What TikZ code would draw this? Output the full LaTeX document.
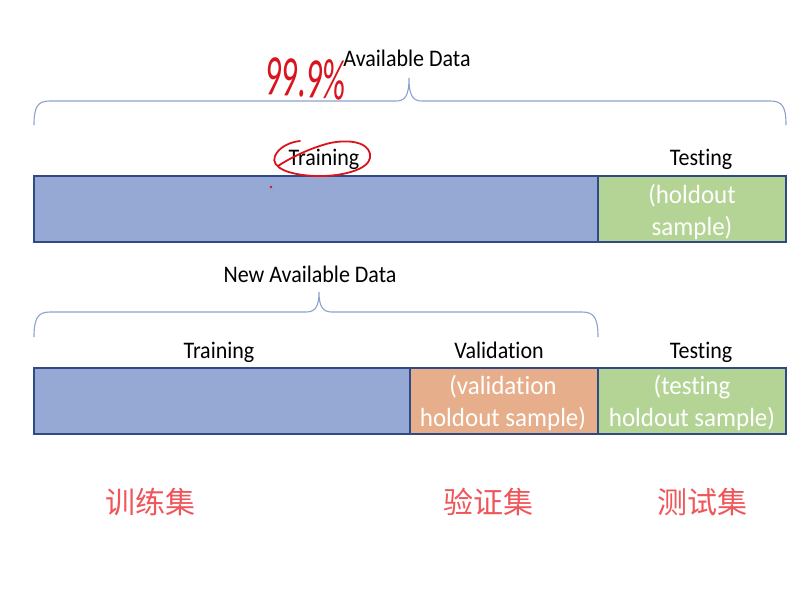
\documentclass[tikz,border=0pt]{standalone}
\usepackage{fontspec}
\setmainfont{Carlito}[Ligatures=NoCommon]
\newfontfamily\cjk{Noto Sans CJK SC}
\definecolor{barblue}{HTML}{95A9D4}
\definecolor{bargreen}{HTML}{B3D495}
\definecolor{barorange}{HTML}{E6AE8A}
\definecolor{edgeblue}{HTML}{2F4A86}
\definecolor{bracecol}{HTML}{8CA2CE}
\definecolor{cnred}{HTML}{F0555A}
\definecolor{penred}{HTML}{D9141E}
\begin{document}
\begin{tikzpicture}[x=1pt,y=-1pt,
  seg/.style={draw=edgeblue,line width=2pt,anchor=north west,inner sep=0pt,outer sep=0pt},
  lbl/.style={font=\fontsize{22}{24}\selectfont,text=black,inner sep=0pt,anchor=base,yscale=1.08},
  wlbl/.style={font=\fontsize{25}{30}\selectfont,text=white,align=center,inner sep=0pt,yscale=1.05},
  cn/.style={font=\cjk\fontsize{30}{32}\selectfont,text=cnred,inner sep=0pt},
  brace/.style={draw=bracecol,line width=1.1pt},
  pen/.style={draw=penred,line width=1.8pt,line cap=round,line join=round}]
\useasboundingbox (0,0) rectangle (810,600);
\fill[white] (0,0) rectangle (810,600);
% top bar
\node[seg,fill=barblue,minimum width=564pt,minimum height=66pt] (tblue) at (34,176) {};
\node[seg,fill=bargreen,minimum width=188pt,minimum height=66pt] (tgreen) at (598,176) {};
\node[wlbl] (thold) at (692,212) {(holdout\\sample)};
% bottom bar
\node[seg,fill=barblue,minimum width=376pt,minimum height=66pt] (bblue) at (34,368) {};
\node[seg,fill=barorange,minimum width=188pt,minimum height=66pt] (borange) at (410,368) {};
\node[seg,fill=bargreen,minimum width=188pt,minimum height=66pt] (bgreen) at (598,368) {};
\node[wlbl] (bval) at (503,403) {(validation\\holdout sample)};
\node[wlbl] (btest) at (692,403) {(testing\\holdout sample)};
% braces
\draw[brace] (34,125) .. controls (34,106) and (38,101) .. (50,101) -- (396,101)
  .. controls (405,101) and (409,96) .. (409,78) .. controls (409,96) and (413,101) .. (422,101)
  -- (770,101) .. controls (782,101) and (786,106) .. (786,125);
\draw[brace] (34,337) .. controls (34,318) and (38,312) .. (50,312) -- (306,312)
  .. controls (315,312) and (319,307) .. (319,292) .. controls (319,307) and (323,312) .. (332,312)
  -- (582,312) .. controls (594,312) and (598,318) .. (598,337);
% labels
\node[lbl] (avail) at (407,66) {Available Data};
\node[lbl] (ttrain) at (324,165) {Training};
\node[lbl] (ttest) at (701,165) {Testing};
\node[lbl] (newavail) at (310,282) {New Available Data};
\node[lbl] (btrain) at (219,358) {Training};
\node[lbl] (bvalid) at (499,358) {Validation};
\node[lbl] (btesting) at (701,358) {Testing};
% chinese labels
\node[cn] (cntrain) at (150,502) {训练集};
\node[cn] (cnval) at (488,502) {验证集};
\node[cn] (cntest) at (702,502) {测试集};
% pen annotations
\draw[pen] (278,166) .. controls (290,158) and (310,148) .. (330,143)
  .. controls (355,138) and (372,145) .. (370,158)
  .. controls (368,170) and (340,177) .. (315,176)
  .. controls (290,175) and (270,168) .. (275,156)
  .. controls (279,147) and (290,142) .. (300,141);
\node[font=\fontsize{34}{36}\selectfont,text=penred,inner sep=0pt,rotate=-4,xscale=0.95,yscale=1.7] (pct) at (306,78) {99.9\%};
\fill[penred] (271,187) circle (1.3pt);
\end{tikzpicture}
\end{document}
